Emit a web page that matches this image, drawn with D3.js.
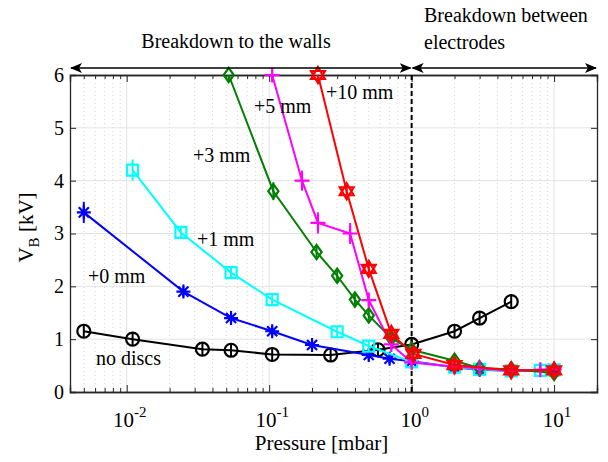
<!DOCTYPE html>
<html>
<head>
<meta charset="utf-8">
<script src="https://cdn.jsdelivr.net/npm/d3@7"></script>
<style>
  body { margin: 0; background: #fff; }
  text { font-family: "Liberation Serif", "Times New Roman", serif; fill: #000; }
</style>
</head>
<body>
<div id="chart"></div>
<script>

// data (pressure in mbar, breakdown voltage in kV)
var noDiscsP = [0.005, 0.011, 0.034, 0.054, 0.105, 0.27, 0.58, 1, 2, 3, 5];
var noDiscsV = [1.15, 1.0, 0.81, 0.79, 0.71, 0.70, 0.80, 0.90, 1.15, 1.40, 1.71];
var noDiscsE = [0.12, 0.12, 0.12, 0.12, 0.12, 0.12, 0.12, 0.12, 0.12, 0.12, 0.12];

var mm0P = [0.005, 0.025, 0.054, 0.105, 0.2, 0.5, 0.7, 1, 2, 3, 5, 10];
var mm0V = [3.4, 1.9, 1.4, 1.15, 0.89, 0.70, 0.63, 0.58, 0.47, 0.42, 0.40, 0.40];
var mm0E = [0.2, 0.1, 0.1, 0.1, 0.1, 0.1, 0.1, 0.08, 0.08, 0.08, 0.08, 0.08];

var mm1P = [0.011, 0.024, 0.054, 0.105, 0.3, 0.5, 1, 2, 3, 5, 8, 10];
var mm1V = [4.2, 3.02, 2.26, 1.75, 1.14, 0.87, 0.57, 0.47, 0.43, 0.40, 0.41, 0.42];
var mm1E = [0.2, 0.1, 0.1, 0.1, 0.1, 0.1, 0.08, 0.08, 0.08, 0.08, 0.08, 0.08];

var mm3P = [0.052, 0.107, 0.215, 0.3, 0.4, 0.5, 0.72, 1, 2, 3, 5, 10];
var mm3V = [6.0, 3.8, 2.65, 2.2, 1.75, 1.45, 1.02, 0.80, 0.59, 0.45, 0.43, 0.36];
var mm3E = [0.12, 0.17, 0.1, 0.1, 0.1, 0.1, 0.1, 0.08, 0.08, 0.08, 0.08, 0.08];

var mm5P = [0.105, 0.17, 0.22, 0.37, 0.5, 0.72, 1, 2, 3, 5, 8, 10];
var mm5V = [6.0, 4.0, 3.2, 3.0, 1.74, 0.90, 0.56, 0.48, 0.45, 0.40, 0.42, 0.43];
var mm5E = [0.1, 0.19, 0.2, 0.2, 0.1, 0.1, 0.08, 0.08, 0.08, 0.08, 0.08, 0.08];

var mm10P = [0.22, 0.35, 0.5, 0.72, 1.03, 2, 5, 10];
var mm10V = [6.0, 3.8, 2.33, 1.1, 0.72, 0.51, 0.41, 0.41];
var mm10E = [0.12, 0.12, 0.12, 0.1, 0.1, 0.08, 0.08, 0.08];

var seriesNames = ["no discs", "+0 mm", "+1 mm", "+3 mm", "+5 mm", "+10 mm"];
var yTicks = [0, 1, 2, 3, 4, 5, 6];
var xTicks = [0.01, 0.1, 1, 10];
var xTickExp = ["-2", "-1", "0", "1"];

var svgWidth = 608;
var svgHeight = 462;

var margin = { top: 75, right: 11, bottom: 70, left: 70 };
var width = svgWidth - margin.left - margin.right;
var height = svgHeight - margin.top - margin.bottom;

var svg = d3.select("#chart")
  .append("svg")
  .attr("width", svgWidth)
  .attr("height", svgHeight);

var chartGroup = svg.append("g")
  .attr("transform", `translate(${margin.left}, ${margin.top})`);

var xScale = d3.scaleLog().domain([0.004, 20]).range([0, width]);
var yScale = d3.scaleLinear().domain([0, 6]).range([height, 0]);

// minor ticks of the log axis (2..9 in every decade)
var minorTicks = [];
[0.001, 0.01, 0.1, 1, 10].forEach(function(dec) {
  for (var k = 2; k <= 9; k++) {
    var v = dec * k;
    if (v > 0.004 && v < 20) minorTicks.push(v);
  }
});

// grid
chartGroup.selectAll(".gridMinor")
  .data(minorTicks)
  .enter()
  .append("line")
  .attr("x1", d => xScale(d)).attr("x2", d => xScale(d))
  .attr("y1", 0).attr("y2", height)
  .attr("stroke", "#d4d4d4")
  .attr("stroke-width", 1)
  .attr("stroke-dasharray", "1,3");

chartGroup.selectAll(".gridX")
  .data(xTicks)
  .enter()
  .append("line")
  .attr("x1", d => xScale(d)).attr("x2", d => xScale(d))
  .attr("y1", 0).attr("y2", height)
  .attr("stroke", "#e3e3e3")
  .attr("stroke-width", 1);

chartGroup.selectAll(".gridY")
  .data(yTicks.slice(1, -1))
  .enter()
  .append("line")
  .attr("x1", 0).attr("x2", width)
  .attr("y1", d => yScale(d)).attr("y2", d => yScale(d))
  .attr("stroke", "#e3e3e3")
  .attr("stroke-width", 1);

// axes with inward ticks, boxed
var axisColor = "#262626";

var xAxisBottom = d3.axisBottom(xScale).tickValues(xTicks).tickSize(-7).tickFormat("");
var xAxisTop = d3.axisTop(xScale).tickValues(xTicks).tickSize(-7).tickFormat("");
var xMinorBottom = d3.axisBottom(xScale).tickValues(minorTicks).tickSize(-4).tickFormat("");
var xMinorTop = d3.axisTop(xScale).tickValues(minorTicks).tickSize(-4).tickFormat("");
var yAxisLeft = d3.axisLeft(yScale).tickValues(yTicks).tickSize(-6).tickPadding(6).tickFormat(d3.format("d"));
var yAxisRight = d3.axisRight(yScale).tickValues(yTicks).tickSize(-6).tickFormat("");

chartGroup.append("g").attr("class", "axis").attr("transform", `translate(0, ${height})`).call(xAxisBottom);
chartGroup.append("g").attr("class", "axis").attr("transform", `translate(0, ${height})`).call(xMinorBottom);
chartGroup.append("g").attr("class", "axis").call(xAxisTop);
chartGroup.append("g").attr("class", "axis").call(xMinorTop);
chartGroup.append("g").attr("class", "axis").call(yAxisLeft);
chartGroup.append("g").attr("class", "axis").attr("transform", `translate(${width}, 0)`).call(yAxisRight);

chartGroup.selectAll(".axis path").attr("stroke", axisColor).attr("stroke-width", 1.3);
chartGroup.selectAll(".axis line").attr("stroke", axisColor).attr("stroke-width", 1);
chartGroup.selectAll(".axis text")
  .style("font-family", "'Liberation Serif', 'Times New Roman', serif")
  .style("font-size", "20px")
  .attr("fill", "#262626");

// x tick labels as 10^n
var xLabels = chartGroup.selectAll(".xlab")
  .data(xTicks)
  .enter()
  .append("text")
  .attr("x", d => xScale(d) + 3)
  .attr("y", height + 35)
  .attr("text-anchor", "middle")
  .style("font-size", "21px")
  .attr("fill", "#262626");
xLabels.append("tspan").text("10");
xLabels.append("tspan")
  .attr("dy", -10)
  .style("font-size", "15px")
  .text((d, i) => xTickExp[i]);

// vertical dashed line at 1 mbar
chartGroup.append("line")
  .attr("x1", xScale(1)).attr("x2", xScale(1))
  .attr("y1", 0).attr("y2", height)
  .attr("stroke", "#000")
  .attr("stroke-width", 2)
  .attr("stroke-dasharray", "5,3");

// marker shapes
function markerPath(type, s) {
  var h = s / 2;
  if (type === "circle") {
    return d3.symbol().type(d3.symbolCircle).size(Math.PI * h * h)();
  }
  if (type === "square") {
    return `M${-h},${-h}L${h},${-h}L${h},${h}L${-h},${h}Z`;
  }
  if (type === "diamond") {
    return `M0,${-h * 1.2}L${h * 0.85},0L0,${h * 1.2}L${-h * 0.85},0Z`;
  }
  if (type === "plus") {
    return `M${-h},0L${h},0M0,${-h}L0,${h}`;
  }
  if (type === "asterisk") {
    var a = h * 0.72;
    return `M${-h},0L${h},0M0,${-h}L0,${h}M${-a},${-a}L${a},${a}M${-a},${a}L${a},${-a}`;
  }
  if (type === "hexagram") {
    var p1 = [], p2 = [];
    for (var i = 0; i < 3; i++) {
      var t1 = -Math.PI / 2 + i * 2 * Math.PI / 3;
      var t2 = Math.PI / 2 + i * 2 * Math.PI / 3;
      p1.push([h * Math.cos(t1), h * Math.sin(t1)]);
      p2.push([h * Math.cos(t2), h * Math.sin(t2)]);
    }
    return "M" + p1.join("L") + "Z" + "M" + p2.join("L") + "Z";
  }
  return "";
}

var series = [
  { name: seriesNames[0], p: noDiscsP, v: noDiscsV, e: noDiscsE, color: "#000000", marker: "circle", size: 13 },
  { name: seriesNames[1], p: mm0P, v: mm0V, e: mm0E, color: "#0000ff", marker: "asterisk", size: 14 },
  { name: seriesNames[2], p: mm1P, v: mm1V, e: mm1E, color: "#00ffff", marker: "square", size: 11 },
  { name: seriesNames[3], p: mm3P, v: mm3V, e: mm3E, color: "#008000", marker: "diamond", size: 12 },
  { name: seriesNames[4], p: mm5P, v: mm5V, e: mm5E, color: "#ff00ff", marker: "plus", size: 15 },
  { name: seriesNames[5], p: mm10P, v: mm10V, e: mm10E, color: "#ff0000", marker: "hexagram", size: 16 }
];

var line = d3.line()
  .x(d => xScale(d.p))
  .y(d => yScale(d.v));

series.forEach(function(s) {
  var pts = s.p.map((p, i) => ({ p: p, v: s.v[i], e: s.e[i] }));
  var g = chartGroup.append("g");

  g.append("path")
    .datum(pts)
    .attr("d", line)
    .attr("fill", "none")
    .attr("stroke", s.color)
    .attr("stroke-width", 2);

  // error bars
  g.selectAll(".err")
    .data(pts)
    .enter()
    .append("line")
    .attr("x1", d => xScale(d.p)).attr("x2", d => xScale(d.p))
    .attr("y1", d => yScale(Math.min(6, d.v + d.e)))
    .attr("y2", d => yScale(d.v - d.e))
    .attr("stroke", s.color)
    .attr("stroke-width", 2);

  g.selectAll(".mk")
    .data(pts)
    .enter()
    .append("path")
    .attr("transform", d => `translate(${xScale(d.p)}, ${yScale(d.v)})`)
    .attr("d", markerPath(s.marker, s.size))
    .attr("fill", "none")
    .attr("stroke", s.color)
    .attr("stroke-width", 2.2);
});

// series labels
var labelPos = [
  { x: 96, y: 365 }, { x: 88, y: 283 }, { x: 197, y: 246 },
  { x: 193, y: 162 }, { x: 254, y: 113 }, { x: 326, y: 99 }
];
seriesNames.forEach(function(n, i) {
  svg.append("text")
    .attr("x", labelPos[i].x)
    .attr("y", labelPos[i].y)
    .style("font-size", "20px")
    .text(n);
});

// axis titles
svg.append("text")
  .attr("x", margin.left + width / 2 - 12)
  .attr("y", 450)
  .attr("text-anchor", "middle")
  .style("font-size", "21px")
  .text("Pressure [mbar]");

var yTitle = svg.append("text")
  .attr("transform", `translate(33, ${margin.top + height / 2 - 6}) rotate(-90)`)
  .attr("text-anchor", "middle")
  .style("font-size", "21px");
yTitle.append("tspan").text("V");
yTitle.append("tspan").attr("dy", 6).style("font-size", "15px").text("B");
yTitle.append("tspan").attr("dy", -6).text(" [kV]");

// region arrows above the plot
var defs = svg.append("defs");
defs.append("marker")
  .attr("id", "arrowHead")
  .attr("viewBox", "0 0 12 10")
  .attr("refX", 11).attr("refY", 5)
  .attr("markerWidth", 12).attr("markerHeight", 10)
  .attr("markerUnits", "userSpaceOnUse")
  .attr("orient", "auto-start-reverse")
  .append("path")
  .attr("d", "M0,0L12,5L0,10L3,5Z")
  .attr("fill", "#000");

var arrowY = 68;
[[0.004, 1], [1, 20]].forEach(function(r) {
  svg.append("line")
    .attr("x1", margin.left + xScale(r[0]) + 1)
    .attr("x2", margin.left + xScale(r[1]) - 1)
    .attr("y1", arrowY).attr("y2", arrowY)
    .attr("stroke", "#000")
    .attr("stroke-width", 1.3)
    .attr("marker-start", "url(#arrowHead)")
    .attr("marker-end", "url(#arrowHead)");
});

svg.append("text")
  .attr("x", 236)
  .attr("y", 48)
  .attr("text-anchor", "middle")
  .style("font-size", "20px")
  .text("Breakdown to the walls");

svg.append("text")
  .attr("x", 424)
  .attr("y", 22)
  .style("font-size", "20px")
  .text("Breakdown between");

svg.append("text")
  .attr("x", 424)
  .attr("y", 49)
  .style("font-size", "20px")
  .text("electrodes");

</script>
</body>
</html>
